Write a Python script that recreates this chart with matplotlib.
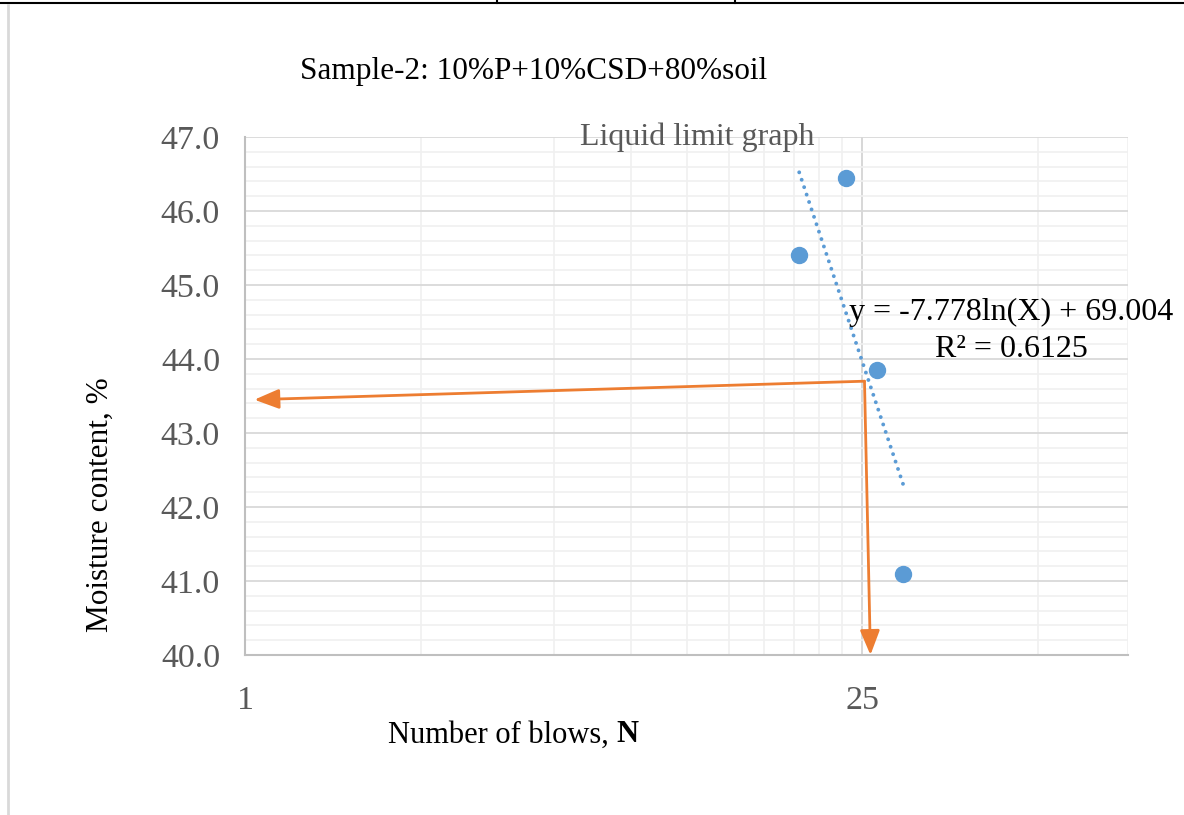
import matplotlib
matplotlib.use("Agg")
import matplotlib.pyplot as plt
from matplotlib.lines import Line2D
import numpy as np

# ---- data ----
blows = [18, 23, 27, 31]
moisture = [45.4, 46.45, 43.85, 41.1]
trend_slope = -7.778
trend_intercept = 69.004
r_squared = 0.6125
x_major = [1, 25]
x_major_labels = ["1", "25"]
x_minor = [2.5, 5, 7.5, 10, 12.5, 15, 17.5, 20, 22.5, 62.5, 100]
y_major = [40, 41, 42, 43, 44, 45, 46, 47]
# reading arrows (liquid limit at 25 blows)
arrow_h_start = (25.3, 43.70)
arrow_h_end = (1.05, 43.45)
arrow_v_end = (26.1, 40.0)

plt.rcParams['font.family'] = ['Liberation Serif', 'DejaVu Serif']
W, H = 1184, 815
fig = plt.figure(figsize=(W / 100, H / 100), dpi=100)
ax = fig.add_axes([245 / W, 1 - 655 / H, (1128 - 245) / W, (655 - 137) / H])

ax.set_xscale('log')
ax.set_xlim(1, 100)
ax.set_ylim(40, 47)

# grid
ax.set_yticks(y_major)
ax.set_yticklabels([f"{v:.1f}" for v in y_major])
ax.set_yticks(np.arange(40, 47.01, 0.2), minor=True)
ax.set_xticks(x_major)
ax.set_xticklabels(x_major_labels)
ax.set_xticks(x_minor, minor=True)
ax.xaxis.set_minor_formatter(matplotlib.ticker.NullFormatter())
ax.yaxis.set_minor_formatter(matplotlib.ticker.NullFormatter())
ax.grid(which='minor', axis='both', color='#f0f0f0', lw=1.2, zorder=0)
ax.grid(which='major', axis='y', color='#d9d9d9', lw=1.3, zorder=0)
ax.grid(which='major', axis='x', color='#d4d4d4', lw=1.3, zorder=0)
ax.set_axisbelow(True)
ax.tick_params(which='both', length=0)
ax.tick_params(axis='y', labelsize=24.5, labelcolor='#595959', pad=18)
ax.tick_params(axis='x', labelsize=24.5, labelcolor='#595959', pad=22)
for s in ['top', 'right']:
    ax.spines[s].set_visible(False)
for s in ['left', 'bottom']:
    ax.spines[s].set_color('#bfbfbf')
    ax.spines[s].set_linewidth(1.5)

# data points
ax.plot(blows, moisture, 'o', color='#5B9BD5', markersize=11.5, zorder=4)

# log trendline over data range
xt = np.linspace(min(blows), max(blows), 50)
yt = trend_slope * np.log(xt) + trend_intercept
ax.plot(xt, yt, color='#5B9BD5', lw=2.8, dashes=(0.01, 2.0),
        dash_capstyle='round', zorder=3)

# equation label
fig.text(1011 / W, 1 - 331 / H,
         f"y = {trend_slope}ln(X) + {trend_intercept:.3f}\nR² = {r_squared}",
         ha='center', va='center', fontsize=23, color='black',
         linespacing=1.35)

# orange arrows
arrow_kw = dict(arrowstyle='-|>,head_length=0.75,head_width=0.3', color='#ED7D31',
                lw=2.0, shrinkA=0, shrinkB=0, mutation_scale=20)
ax.annotate('', xy=arrow_h_end, xytext=arrow_h_start, arrowprops=arrow_kw, zorder=5)
ax.annotate('', xy=arrow_v_end, xytext=arrow_h_start, arrowprops=arrow_kw, zorder=5)

# titles and labels
fig.text(300 / W, 1 - 72 / H, "Sample-2: 10%P+10%CSD+80%soil",
         ha='left', va='center', fontsize=22.5, color='black')
fig.text(697 / W, 1 - 137 / H, "Liquid limit graph", ha='center', va='center',
         fontsize=23, color='#595959')
fig.text(100 / W, 1 - 505 / H, "Moisture content, %", rotation=90,
         ha='center', va='center', fontsize=22.5, color='black')
t1 = fig.text(388 / W, 1 - 735 / H, "Number of blows, ", ha='left', va='center',
              fontsize=22, color='black')
ax.annotate("N", xy=(1, 0), xycoords=t1, ha='left', va='bottom',
            fontsize=22, fontweight='bold', color='black')

# page decorations
fig.add_artist(Line2D([0, 1], [1 - 3 / H] * 2, color='black', lw=1.5))
for xv in [497, 735]:
    fig.add_artist(Line2D([xv / W] * 2, [1, 1 - 3 / H], color='black', lw=1.5))
fig.add_artist(Line2D([8 / W] * 2, [1 - 5 / H, 0], color='#d9d9d9', lw=2))

fig.savefig("out.png", dpi=100)
